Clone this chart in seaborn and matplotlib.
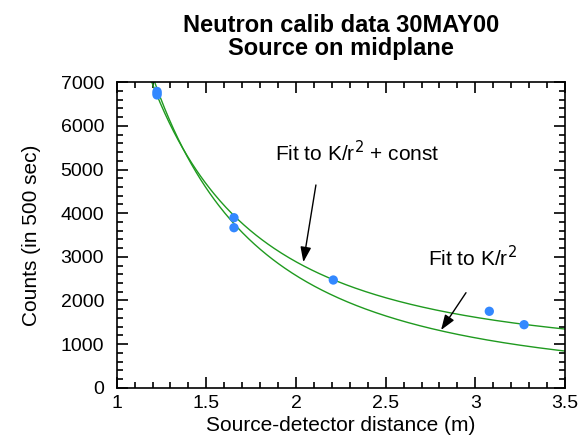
import numpy as np
import pandas as pd
import matplotlib
matplotlib.use("Agg")
import matplotlib.pyplot as plt
from matplotlib.ticker import MultipleLocator
import seaborn as sns

distance_m = [1.225, 1.225, 1.225, 1.654, 1.654, 2.208, 3.078, 3.272]
counts = [6790, 6750, 6710, 3896, 3667, 2468, 1751, 1444]

title_lines = ["Neutron calib data 30MAY00", "Source on midplane"]
x_ticks = [1, 1.5, 2, 2.5, 3, 3.5]
x_tick_labels = ["1", "1.5", "2", "2.5", "3", "3.5"]
y_ticks = [0, 1000, 2000, 3000, 4000, 5000, 6000, 7000]

sns.set_style("ticks")
plt.rcParams.update({
    "font.family": ["Liberation Sans", "DejaVu Sans"],
    "text.color": "black",
    "axes.labelcolor": "black",
    "xtick.color": "black",
    "ytick.color": "black",
})

df = pd.DataFrame({"r": distance_m, "counts": counts})

# least squares fits: K/r^2 and K/r^2 + const
r = np.array(distance_m)
y = np.array(counts, dtype=float)
K1 = np.sum(y / r**2) / np.sum(1 / r**4)
A = np.column_stack([1 / r**2, np.ones_like(r)])
K2, c2 = np.linalg.lstsq(A, y, rcond=None)[0]

rr = np.linspace(1.0, 3.5, 300)
fits = pd.DataFrame({
    "r": np.concatenate([rr, rr]),
    "counts": np.concatenate([K1 / rr**2, K2 / rr**2 + c2]),
    "fit": ["K/r^2"] * len(rr) + ["K/r^2 + const"] * len(rr),
})

fig = plt.figure(figsize=(5.8, 4.4), dpi=100)
ax = fig.add_axes([0.2012, 0.1189, 0.7729, 0.6941])

sns.lineplot(data=fits, x="r", y="counts", units="fit", estimator=None,
             color="#1f9a1f", linewidth=1.0, ax=ax, legend=False)
sns.scatterplot(data=df, x="r", y="counts", color="#3388ff", s=45,
                edgecolor="none", ax=ax, legend=False, zorder=3)

ax.set_xlim(1, 3.5)
ax.set_ylim(0, 7000)
ax.set_xticks(x_ticks)
ax.set_xticklabels(x_tick_labels)
ax.set_yticks(y_ticks)
ax.xaxis.set_minor_locator(MultipleLocator(0.1))
ax.yaxis.set_minor_locator(MultipleLocator(200))
ax.tick_params(which="both", direction="in", top=True, right=True,
               labelsize=14, width=1.2, color="black", labelcolor="black")
ax.tick_params(which="major", length=8)
ax.tick_params(which="minor", length=4)
ax.tick_params(axis="x", which="major", pad=5)
ax.tick_params(axis="y", which="major", pad=9)
for sp in ax.spines.values():
    sp.set_linewidth(1.2)
    sp.set_color("black")

ax.set_xlabel("Source-detector distance (m)", fontsize=15, labelpad=3)
ax.set_ylabel("Counts (in 500 sec)", fontsize=15, labelpad=14)
ax.set_title("\n".join(title_lines), fontsize=17, fontweight="bold",
             pad=20, linespacing=1.0)

arrow = dict(arrowstyle="-|>,head_length=0.7,head_width=0.25", color="black",
             lw=1.0, shrinkA=0, shrinkB=0, mutation_scale=13)
ax.text(2.34, 5380, "Fit to K/r$^2$ + const", ha="center", va="center", fontsize=15)
ax.annotate("", xy=(2.041, 2878), xytext=(2.111, 4646), arrowprops=arrow)
ax.text(2.982, 2973, "Fit to K/r$^2$", ha="center", va="center", fontsize=15)
ax.annotate("", xy=(2.809, 1322), xytext=(2.948, 2177), arrowprops=arrow)

fig.savefig("out.png", dpi=100)
